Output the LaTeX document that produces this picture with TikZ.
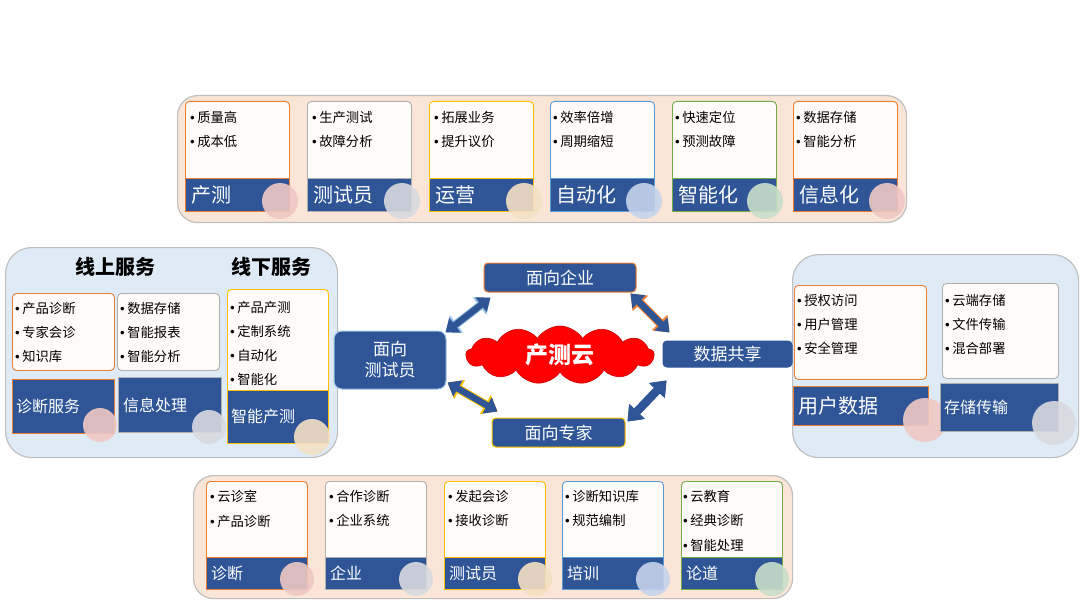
\documentclass[tikz,border=0pt]{standalone}
\usepackage{fontspec}
\setmainfont{Noto Sans CJK SC}
\newfontfamily\bulletfont{Liberation Sans}
\newcommand\bul{{\bulletfont •}\hspace{2.5pt}}
\usetikzlibrary{calc,shapes.symbols,arrows.meta}
\definecolor{BarClr}{RGB}{47,85,151}
\definecolor{PeachClr}{RGB}{251,229,214}
\definecolor{SkyClr}{RGB}{222,235,247}
\definecolor{PaperClr}{RGB}{255,251,249}
\definecolor{PanelLine}{RGB}{191,191,191}
\definecolor{OrangeClr}{RGB}{237,125,49}
\definecolor{GreyClr}{RGB}{175,175,175}
\definecolor{GoldClr}{RGB}{255,192,0}
\definecolor{BlueClr}{RGB}{91,155,213}
\definecolor{PaleBlue}{RGB}{157,195,230}
\definecolor{GreenClr}{RGB}{112,173,71}
\definecolor{PinkDot}{RGB}{238,200,196}
\definecolor{GreyDot}{RGB}{216,218,224}
\definecolor{GoldDot}{RGB}{244,224,196}
\definecolor{BlueDot}{RGB}{198,212,236}
\definecolor{GreenDot}{RGB}{200,222,202}

\begin{document}
\begin{tikzpicture}[x=1pt,y=-1pt]
\tikzset{
  panel/.style={draw=PanelLine, line width=1.2pt, rounded corners=20pt, anchor=north west, inner sep=0pt},
  card/.style={draw=#1, line width=0.9pt, fill=PaperClr, rounded corners=4pt, anchor=north west, inner sep=0pt},
  bar/.style={draw=#1, line width=0.9pt, fill=BarClr, anchor=north west, inner sep=0pt},
  dot/.style={circle, fill=#1, fill opacity=0.9, inner sep=0pt},
  items/.style={font=\fontsize{13.3}{24.5}\selectfont, align=left, anchor=north west, inner sep=0pt},
  cardtitle/.style={font=\fontsize{#1}{#1}\selectfont, text=white, anchor=west, inner sep=0pt},
  hub/.style={draw=#1, line width=1pt, fill=BarClr, text=white, rounded corners=4pt,
    font=\fontsize{17}{21}\selectfont, align=center, inner sep=0pt},
  link/.style={BarClr, line width=6.5pt, {Triangle[width=18pt,length=12pt]}-{Triangle[width=18pt,length=12pt]},
    preaction={draw=#1, line width=8.5pt, {Triangle[width=21pt,length=14pt]}-{Triangle[width=21pt,length=14pt]}}}
}
\useasboundingbox (0,0) rectangle (1080,607);

\node[panel, fill=PeachClr, minimum width=729pt, minimum height=127pt] (toppanel) at (177,95) {};
\node[panel, fill=PeachClr, minimum width=599pt, minimum height=123pt] (botpanel) at (193,475) {};
\node[panel, fill=SkyClr, rounded corners=26pt, minimum width=332pt, minimum height=210pt] (leftpanel) at (5,247) {};
\node[panel, fill=SkyClr, rounded corners=26pt, minimum width=286pt, minimum height=203pt] (rightpanel) at (792,254) {};

\node[card=OrangeClr, minimum width=104pt, minimum height=89pt] (t1) at (185,101) {};
\node[bar=OrangeClr, minimum width=104pt, minimum height=33pt] (t1bar) at (185,178) {};
\node[items] (t1txt) at (190,111) {\bul 质量高\\\bul 成本低};
\node[cardtitle=20] (t1ttl) at ($(t1bar.west)+(6,0)$) {产测};
\node[dot=PinkDot, minimum size=36pt] (t1dot) at (280,201) {};

\node[card=GreyClr, minimum width=104pt, minimum height=89pt] (t2) at (307,101) {};
\node[bar=GreyClr, minimum width=104pt, minimum height=33pt] (t2bar) at (307,178) {};
\node[items] (t2txt) at (312,111) {\bul 生产测试\\\bul 故障分析};
\node[cardtitle=20] (t2ttl) at ($(t2bar.west)+(6,0)$) {测试员};
\node[dot=GreyDot, minimum size=36pt] (t2dot) at (402,201) {};

\node[card=GoldClr, minimum width=104pt, minimum height=89pt] (t3) at (429,101) {};
\node[bar=GoldClr, minimum width=104pt, minimum height=33pt] (t3bar) at (429,178) {};
\node[items] (t3txt) at (434,111) {\bul 拓展业务\\\bul 提升议价};
\node[cardtitle=20] (t3ttl) at ($(t3bar.west)+(6,0)$) {运营};
\node[dot=GoldDot, minimum size=36pt] (t3dot) at (524,201) {};

\node[card=BlueClr, minimum width=104pt, minimum height=89pt] (t4) at (550,101) {};
\node[bar=BlueClr, minimum width=104pt, minimum height=33pt] (t4bar) at (550,178) {};
\node[items] (t4txt) at (553,111) {\bul 效率倍增\\\bul 周期缩短};
\node[cardtitle=20] (t4ttl) at ($(t4bar.west)+(6,0)$) {自动化};
\node[dot=BlueDot, minimum size=36pt] (t4dot) at (644,201) {};

\node[card=GreenClr, minimum width=104pt, minimum height=89pt] (t5) at (672,101) {};
\node[bar=GreenClr, minimum width=104pt, minimum height=33pt] (t5bar) at (672,178) {};
\node[items] (t5txt) at (675,111) {\bul 快速定位\\\bul 预测故障};
\node[cardtitle=20] (t5ttl) at ($(t5bar.west)+(6,0)$) {智能化};
\node[dot=GreenDot, minimum size=36pt] (t5dot) at (765,201) {};

\node[card=OrangeClr, minimum width=104pt, minimum height=89pt] (t6) at (793,101) {};
\node[bar=OrangeClr, minimum width=104pt, minimum height=33pt] (t6bar) at (793,178) {};
\node[items] (t6txt) at (796,111) {\bul 数据存储\\\bul 智能分析};
\node[cardtitle=20] (t6ttl) at ($(t6bar.west)+(6,0)$) {信息化};
\node[dot=PinkDot, minimum size=36pt] (t6dot) at (887,201) {};

\node[card=OrangeClr, minimum width=101pt, minimum height=84pt] (b1) at (206,481) {};
\node[bar=OrangeClr, minimum width=101pt, minimum height=32pt] (b1bar) at (206,557) {};
\node[items] (b1txt) at (210,490) {\bul 云诊室\\\bul 产品诊断};
\node[cardtitle=16] (b1ttl) at ($(b1bar.west)+(5,0)$) {诊断};
\node[dot=PinkDot, minimum size=34pt] (b1dot) at (297,579) {};

\node[card=GreyClr, minimum width=101pt, minimum height=84pt] (b2) at (325,481) {};
\node[bar=GreyClr, minimum width=101pt, minimum height=32pt] (b2bar) at (325,557) {};
\node[items] (b2txt) at (329,490) {\bul 合作诊断\\\bul 企业系统};
\node[cardtitle=16] (b2ttl) at ($(b2bar.west)+(5,0)$) {企业};
\node[dot=GreyDot, minimum size=34pt] (b2dot) at (416,579) {};

\node[card=GoldClr, minimum width=101pt, minimum height=84pt] (b3) at (444,481) {};
\node[bar=GoldClr, minimum width=101pt, minimum height=32pt] (b3bar) at (444,557) {};
\node[items] (b3txt) at (448,490) {\bul 发起会诊\\\bul 接收诊断};
\node[cardtitle=16] (b3ttl) at ($(b3bar.west)+(5,0)$) {测试员};
\node[dot=GoldDot, minimum size=34pt] (b3dot) at (535,579) {};

\node[card=BlueClr, minimum width=101pt, minimum height=84pt] (b4) at (562,481) {};
\node[bar=BlueClr, minimum width=101pt, minimum height=32pt] (b4bar) at (562,557) {};
\node[items] (b4txt) at (565,490) {\bul 诊断知识库\\\bul 规范编制};
\node[cardtitle=16] (b4ttl) at ($(b4bar.west)+(5,0)$) {培训};
\node[dot=BlueDot, minimum size=34pt] (b4dot) at (653,579) {};

\node[card=GreenClr, minimum width=101pt, minimum height=84pt] (b5) at (681,481) {};
\node[bar=GreenClr, minimum width=101pt, minimum height=32pt] (b5bar) at (681,557) {};
\node[items] (b5txt) at (683,490) {\bul 云教育\\\bul 经典诊断\\\bul 智能处理};
\node[cardtitle=16] (b5ttl) at ($(b5bar.west)+(5,0)$) {论道};
\node[dot=GreenDot, minimum size=34pt] (b5dot) at (772,579) {};

\node[font=\fontsize{20}{20}\selectfont\bfseries] (online) at (115,267) {线上服务};
\node[font=\fontsize{20}{20}\selectfont\bfseries] (offline) at (271,267) {线下服务};

\node[card=OrangeClr, minimum width=102pt, minimum height=77pt] (l1) at (12,293) {};
\node[bar=OrangeClr, minimum width=102pt, minimum height=54pt] (l1bar) at (12,379) {};
\node[items, font=\fontsize{13.3}{24}\selectfont] (l1txt) at (15,302) {\bul 产品诊断\\\bul 专家会诊\\\bul 知识库};
\node[cardtitle=16] (l1ttl) at ($(l1bar.west)+(4,0)$) {诊断服务};
\node[dot=PinkDot, minimum size=34pt] (l1dot) at (100,425) {};

\node[card=GreyClr, minimum width=102pt, minimum height=77pt] (l2) at (117,293) {};
\node[bar=GreyClr, minimum width=103pt, minimum height=55pt] (l2bar) at (118,377) {};
\node[items, font=\fontsize{13.3}{24}\selectfont] (l2txt) at (120,302) {\bul 数据存储\\\bul 智能报表\\\bul 智能分析};
\node[cardtitle=16] (l2ttl) at ($(l2bar.west)+(5,0)$) {信息处理};
\node[dot=GreyDot, minimum size=34pt] (l2dot) at (209,427) {};

\node[card=GoldClr, minimum width=101pt, minimum height=105pt] (l3) at (227,289) {};
\node[bar=GoldClr, minimum width=101pt, minimum height=53pt] (l3bar) at (227,390) {};
\node[items, font=\fontsize{13.3}{24}\selectfont] (l3txt) at (230,301) {\bul 产品产测\\\bul 定制系统\\\bul 自动化\\\bul 智能化};
\node[cardtitle=16] (l3ttl) at ($(l3bar.west)+(4,0)$) {智能产测};
\node[dot=GoldDot, minimum size=36pt] (l3dot) at (312,437) {};

\node[card=OrangeClr, minimum width=132pt, minimum height=94pt] (r1) at (794,285) {};
\node[bar=OrangeClr, minimum width=135pt, minimum height=39pt] (r1bar) at (793,386) {};
\node[items, font=\fontsize{13.3}{24}\selectfont] (r1txt) at (797,294) {\bul 授权访问\\\bul 用户管理\\\bul 安全管理};
\node[cardtitle=20] (r1ttl) at ($(r1bar.west)+(5,0)$) {用户数据};
\node[dot=PinkDot, minimum size=44pt] (r1dot) at (925,420) {};

\node[card=GreyClr, minimum width=116pt, minimum height=95pt] (r2) at (942,283) {};
\node[bar=GreyClr, minimum width=118pt, minimum height=48pt] (r2bar) at (940,383) {};
\node[items, font=\fontsize{13.3}{24}\selectfont] (r2txt) at (945,294) {\bul 云端存储\\\bul 文件传输\\\bul 混合部署};
\node[cardtitle=16] (r2ttl) at ($(r2bar.west)+(4,0)$) {存储传输};
\node[dot=GreyDot, minimum size=44pt] (r2dot) at (1054,423) {};

\node[hub=OrangeClr, minimum width=152pt, minimum height=29pt] (firm) at (560,277.5) {面向企业};
\node[hub=PaleBlue, rounded corners=8pt, minimum width=112pt, minimum height=58pt] (tester) at (390,360) {面向\\测试员};
\node[hub=BarClr, minimum width=129pt, minimum height=26pt] (share) at (727.5,354) {数据共享};
\node[hub=GoldClr, minimum width=133pt, minimum height=29pt] (expert) at (558.5,432.5) {面向专家};
\node[cloud, cloud puffs=13, cloud puff arc=115, aspect=3.2, draw=red!80!black, line width=0.6pt, fill=red,
  minimum width=188pt, minimum height=58pt, inner sep=0pt, text=white,
  font=\fontsize{23}{23}\selectfont\bfseries] (cloudnode) at (560,355) {产测云};

\draw[link=PaleBlue] ($(tester.north east)+(-1,2)$) -- ($(firm.south west)+(7,5)$);
\draw[link=OrangeClr] ($(firm.south east)+(-6,1)$) -- ($(share.north west)+(7,-8)$);
\draw[link=GoldClr] ($(tester.south east)+(1,-7)$) -- ($(expert.north west)+(6,-6)$);
\draw[link=BarClr] ($(share.south west)+(4,13)$) -- ($(expert.north east)+(2,4)$);

\end{tikzpicture}
\end{document}
